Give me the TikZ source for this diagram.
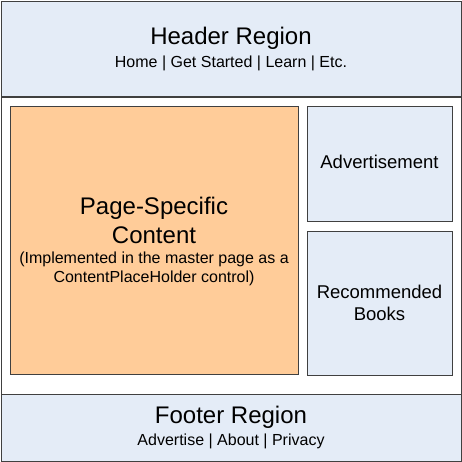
\documentclass[tikz,border=0pt]{standalone}
\usepackage{fontspec}
\setmainfont{Liberation Sans}
\usetikzlibrary{positioning}
\definecolor{regionblue}{HTML}{E4ECF7}
\definecolor{contentorange}{HTML}{FFCC99}
\definecolor{edgegray}{HTML}{404040}
\begin{document}
\begin{tikzpicture}[x=1pt, y=-1pt,
  box/.style={draw=edgegray, line width=1.2pt, fill=regionblue, inner sep=0pt, anchor=north west},
  big/.style={font=\fontsize{24}{28}\selectfont, anchor=base, inner sep=0pt},
  mid/.style={font=\fontsize{18.5}{22}\selectfont, anchor=base, inner sep=0pt},
  small/.style={font=\fontsize{16}{19}\selectfont, anchor=base, inner sep=0pt}]
\useasboundingbox (0,0) rectangle (462,462);
% regions
\node[box, fill=white, minimum width=460, minimum height=460] (page) at (1,1) {};
\node[box, minimum width=460, minimum height=95.5] (header) at (1,1) {};
\node[box, minimum width=460, minimum height=67] (footer) at (1,394) {};
\node[box, fill=contentorange, minimum width=288, minimum height=268] (content) at (10,106) {};
\node[box, minimum width=145, minimum height=115] (ad) at (307,106) {};
\node[box, minimum width=145, minimum height=144] (books) at (307,231) {};
% texts
\node[big] (headertitle) at (231,45) {Header Region};
\node[small] (headerlinks) at (231,68) {Home | Get Started | Learn | Etc.};
\node[big] (contenttitle) at (154,214) {Page-Specific};
\node[big] (contenttitle2) at (154,243) {Content};
\node[small] (contentnote) at (154,263) {(Implemented in the master page as a};
\node[small] (contentnote2) at (154,282) {ContentPlaceHolder control)};
\node[mid] (adtext) at (379.5,169) {Advertisement};
\node[mid] (bookstext) at (379.5,298) {Recommended};
\node[mid] (bookstext2) at (379.5,320) {Books};
\node[big] (footertitle) at (231,423) {Footer Region};
\node[small] (footerlinks) at (231,445) {Advertise | About | Privacy};
\end{tikzpicture}
\end{document}
